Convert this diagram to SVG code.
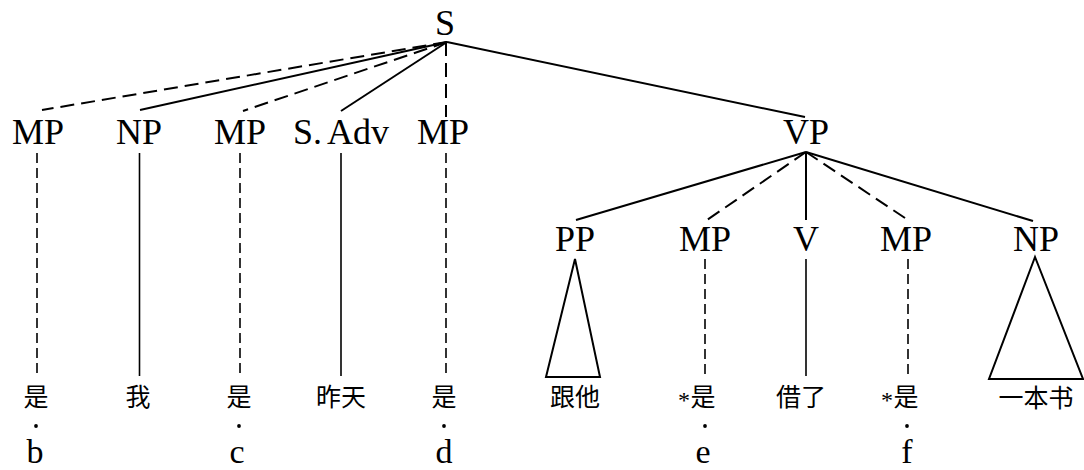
<svg xmlns="http://www.w3.org/2000/svg" width="1084" height="470" viewBox="0 0 1084 470">
<style>
.lbl{font-family:'Liberation Serif',serif;font-size:36px;fill:#000;text-anchor:middle}
.let{font-family:'Liberation Serif',serif;font-size:34px;fill:#000;text-anchor:middle}
.cjk{font-family:'Noto Sans CJK SC','Noto Sans CJK JP',sans-serif;font-size:25px;fill:#000;text-anchor:middle}
.ast{font-family:'Liberation Serif',serif;font-size:24px;fill:#000;text-anchor:middle}
.s{stroke:#000;stroke-width:2;fill:none}
.d{stroke:#000;stroke-width:2;fill:none;stroke-dasharray:14 7}
.v{stroke:#000;stroke-width:1.6;fill:none}
.vd{stroke:#000;stroke-width:1.6;fill:none;stroke-dasharray:10 5}
.tri{stroke:#000;stroke-width:2;fill:none;stroke-linejoin:miter}
</style>
<rect width="1084" height="470" fill="#fff"/>
<g id="connectors">
  <line class="d" x1="447" y1="42" x2="42" y2="110"/>
  <line class="s" x1="447" y1="42" x2="140" y2="110"/>
  <line class="d" x1="447" y1="42" x2="243" y2="111"/>
  <line class="s" x1="447" y1="42" x2="341" y2="111"/>
  <line class="d" x1="446" y1="42" x2="446" y2="117"/>
  <line class="s" x1="447" y1="42" x2="805" y2="117"/>
  <line class="vd" x1="37" y1="153" x2="37" y2="376"/>
  <line class="v" x1="139.5" y1="153" x2="139.5" y2="376"/>
  <line class="vd" x1="240" y1="153" x2="240" y2="376"/>
  <line class="v" x1="341" y1="153" x2="341" y2="376"/>
  <line class="vd" x1="446" y1="153" x2="446" y2="376"/>
  <line class="s" x1="806" y1="152" x2="576" y2="220"/>
  <line class="d" x1="806" y1="152" x2="707" y2="220"/>
  <line class="s" x1="806" y1="152" x2="806" y2="220"/>
  <line class="d" x1="806" y1="152" x2="908" y2="220"/>
  <line class="s" x1="806" y1="152" x2="1033" y2="221"/>
  <line class="vd" x1="705" y1="259" x2="705" y2="376"/>
  <line class="v" x1="806" y1="259" x2="806" y2="376"/>
  <line class="vd" x1="908" y1="259" x2="908" y2="376"/>
  <polygon class="tri" points="575,259 546,377 600,377"/>
  <polygon class="tri" points="1035,257 989,379 1083,379"/>
</g>
<g id="n-S"><text class="lbl" x="445" y="35">S</text></g>
<g id="n-MP1"><text class="lbl" x="38" y="144">MP</text></g>
<g id="n-NP1"><text class="lbl" x="139" y="144">NP</text></g>
<g id="n-MP2"><text class="lbl" x="240" y="144">MP</text></g>
<g id="n-SAdv"><text class="lbl" x="341" y="144" word-spacing="-2">S. Adv</text></g>
<g id="n-MP3"><text class="lbl" x="443" y="144">MP</text></g>
<g id="n-VP"><text class="lbl" x="806" y="144">VP</text></g>
<g id="n-PP"><text class="lbl" x="575" y="251">PP</text></g>
<g id="n-MP4"><text class="lbl" x="705" y="251">MP</text></g>
<g id="n-V"><text class="lbl" x="806" y="251">V</text></g>
<g id="n-MP5"><text class="lbl" x="906" y="251">MP</text></g>
<g id="n-NP2"><text class="lbl" x="1036" y="251">NP</text></g>
<g id="leaf-b">
  <text class="cjk" x="36" y="406">是</text>
  <circle cx="36" cy="426" r="1.9"/>
  <text class="let" x="35" y="463">b</text>
</g>
<g id="leaf-wo"><text class="cjk" x="138" y="406">我</text></g>
<g id="leaf-c">
  <text class="cjk" x="239" y="406">是</text>
  <circle cx="239" cy="426" r="1.9"/>
  <text class="let" x="237" y="463">c</text>
</g>
<g id="leaf-zuotian"><text class="cjk" x="341" y="406">昨天</text></g>
<g id="leaf-d">
  <text class="cjk" x="444" y="406">是</text>
  <circle cx="444" cy="426" r="1.9"/>
  <text class="let" x="444" y="463">d</text>
</g>
<g id="leaf-genta"><text class="cjk" x="575" y="406">跟他</text></g>
<g id="leaf-e">
  <text class="ast" x="684" y="408">*</text>
  <text class="cjk" x="703" y="406">是</text>
  <circle cx="705" cy="426" r="1.9"/>
  <text class="let" x="703" y="463">e</text>
</g>
<g id="leaf-jiele"><text class="cjk" x="801" y="406">借了</text></g>
<g id="leaf-f">
  <text class="ast" x="887" y="408">*</text>
  <text class="cjk" x="906" y="406">是</text>
  <circle cx="907" cy="426" r="1.9"/>
  <text class="let" x="907" y="463">f</text>
</g>
<g id="leaf-yibenshu"><text class="cjk" x="1036" y="407">一本书</text></g>
</svg>
